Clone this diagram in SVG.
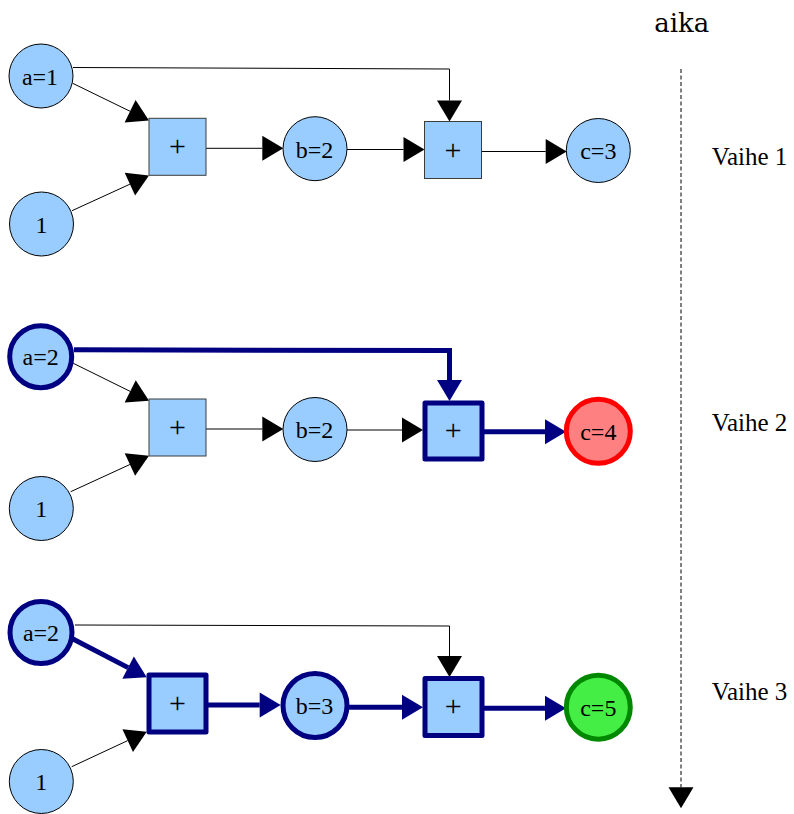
<svg xmlns="http://www.w3.org/2000/svg" width="794" height="814" viewBox="0 0 794 814">
<style>
  text { font-family: "Liberation Serif", "Times New Roman", serif; fill: #000; }
  .lbl { font-size: 24px; text-anchor: middle; }
  .plus { font-size: 30px; text-anchor: middle; }
  .side { font-size: 25px; }
  .title { font-family: "DejaVu Serif", "Liberation Serif", serif; font-size: 26px; }
  .n { fill: #99ccff; stroke: #000; stroke-width: 1; }
  .b { fill: #99ccff; stroke: #3c3c3c; stroke-width: 1; }
  .nh { fill: #99ccff; stroke: #000080; stroke-width: 5; }
  .bh { fill: #99ccff; stroke: #000080; stroke-width: 5; stroke-linejoin: round; }
  .red { fill: #ff8080; stroke: #ff0000; stroke-width: 5; }
  .grn { fill: #44ee44; stroke: #008800; stroke-width: 5; }
  .e { fill: none; stroke: #000; stroke-width: 1; marker-end: url(#ab); }
  .eh { fill: none; stroke: #000080; stroke-width: 5; marker-end: url(#an); }
  .time { fill: none; stroke: #000; stroke-width: 1; stroke-dasharray: 4 2.5; marker-end: url(#ab); }
</style>
<defs>
  <marker id="ab" markerUnits="userSpaceOnUse" markerWidth="21" markerHeight="25" refX="0" refY="12.5" orient="auto" overflow="visible">
    <path d="M0,0 L21,12.5 L0,25 Z" fill="#000"/>
  </marker>
  <marker id="an" markerUnits="userSpaceOnUse" markerWidth="21" markerHeight="25" refX="0" refY="12.5" orient="auto" overflow="visible">
    <path d="M0,0 L21,12.5 L0,25 Z" fill="#000080"/>
  </marker>
</defs>
<rect width="794" height="814" fill="#fff"/>

<g id="connectors">
  <!-- stage 1 -->
  <line class="e" x1="72.7" y1="83.3" x2="130.1" y2="111.3"/>
  <line class="e" x1="72" y1="210.7" x2="129.9" y2="184.2"/>
  <line class="e" x1="206" y1="148.3" x2="262.3" y2="148.3"/>
  <line class="e" x1="347" y1="149.5" x2="403.5" y2="149.5"/>
  <line class="e" x1="481.5" y1="151.5" x2="545.7" y2="151.5"/>
  <polyline class="e" points="73,67.5 449.5,69 449.5,100.5"/>
  <!-- stage 2 -->
  <line class="e" x1="73.3" y1="363.3" x2="130.2" y2="391.4"/>
  <line class="e" x1="70.7" y1="491.7" x2="129.9" y2="464.5"/>
  <line class="e" x1="206" y1="429" x2="262.3" y2="429"/>
  <line class="e" x1="347" y1="430" x2="402" y2="430"/>
  <line class="eh" x1="484" y1="431.7" x2="545" y2="431.7"/>
  <polyline class="eh" points="74,349.8 449.5,350.5 449.5,380"/>
  <!-- stage 3 -->
  <line class="eh" x1="73" y1="639" x2="128.1" y2="667.6"/>
  <line class="e" x1="71.7" y1="766.7" x2="127.7" y2="740.6"/>
  <line class="eh" x1="208" y1="705" x2="259.7" y2="705"/>
  <line class="eh" x1="349" y1="707.3" x2="402" y2="707.3"/>
  <line class="eh" x1="484" y1="708.3" x2="545" y2="708.3"/>
  <polyline class="e" points="75,625 449.5,626 449.5,656"/>
  <!-- time axis -->
  <line class="time" x1="681" y1="69" x2="681" y2="787.3"/>
</g>

<g id="stage1">
  <g id="s1-a"><circle class="n" cx="41" cy="76" r="32"/><text class="lbl" x="40" y="84.5">a=1</text></g>
  <g id="s1-one"><circle class="n" cx="41.5" cy="224" r="32"/><text class="lbl" x="41.5" y="232.5">1</text></g>
  <g id="s1-add1"><rect class="b" x="149" y="118.3" width="57" height="57"/><text class="plus" x="177.5" y="156">+</text></g>
  <g id="s1-b"><circle class="n" cx="315" cy="148.7" r="32"/><text class="lbl" x="314.5" y="157.5">b=2</text></g>
  <g id="s1-add2"><rect class="b" x="424.5" y="121.5" width="57" height="57"/><text class="plus" x="453" y="159.5">+</text></g>
  <g id="s1-c"><circle class="n" cx="598.3" cy="150.5" r="32"/><text class="lbl" x="598.3" y="159">c=3</text></g>
</g>

<g id="stage2">
  <g id="s2-a"><circle class="nh" cx="40.7" cy="356.7" r="31"/><text class="lbl" x="40.7" y="365">a=2</text></g>
  <g id="s2-one"><circle class="n" cx="41.3" cy="508.5" r="32"/><text class="lbl" x="41.3" y="517">1</text></g>
  <g id="s2-add1"><rect class="b" x="149" y="399" width="57" height="57"/><text class="plus" x="177.5" y="437">+</text></g>
  <g id="s2-b"><circle class="n" cx="315" cy="429.5" r="32"/><text class="lbl" x="314.5" y="438">b=2</text></g>
  <g id="s2-add2"><rect class="bh" x="425" y="403" width="57" height="56"/><text class="plus" x="453.3" y="440">+</text></g>
  <g id="s2-c"><circle class="red" cx="598.3" cy="431.3" r="32"/><text class="lbl" x="598.3" y="440">c=4</text></g>
</g>

<g id="stage3">
  <g id="s3-a"><circle class="nh" cx="41" cy="632.5" r="31"/><text class="lbl" x="41" y="641">a=2</text></g>
  <g id="s3-one"><circle class="n" cx="41.3" cy="781.5" r="32"/><text class="lbl" x="41.3" y="790">1</text></g>
  <g id="s3-add1"><rect class="bh" x="149" y="675" width="57" height="57"/><text class="plus" x="177.5" y="713">+</text></g>
  <g id="s3-b"><circle class="nh" cx="315" cy="705.5" r="32"/><text class="lbl" x="314.5" y="714">b=3</text></g>
  <g id="s3-add2"><rect class="bh" x="425" y="678.5" width="57" height="57"/><text class="plus" x="453.3" y="716">+</text></g>
  <g id="s3-c"><circle class="grn" cx="598.3" cy="707.2" r="32"/><text class="lbl" x="598.3" y="716">c=5</text></g>
</g>

<g id="labels">
  <text class="title" x="654.3" y="31.7" textLength="55" lengthAdjust="spacingAndGlyphs">aika</text>
  <text class="side" x="711.7" y="165">Vaihe 1</text>
  <text class="side" x="711.7" y="431">Vaihe 2</text>
  <text class="side" x="711.7" y="700">Vaihe 3</text>
</g>
</svg>
